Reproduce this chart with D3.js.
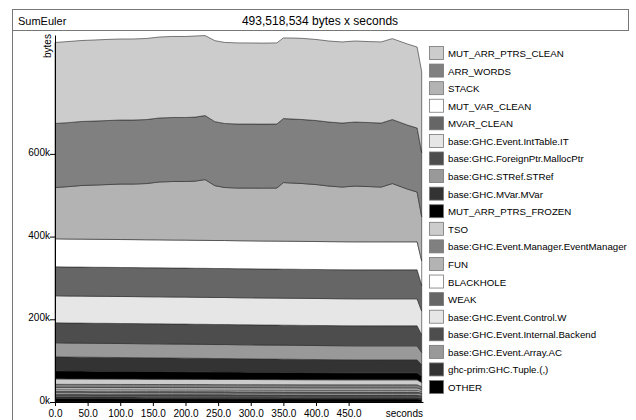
<!DOCTYPE html>
<html>
<head>
<meta charset="utf-8">
<script src="https://cdn.jsdelivr.net/npm/d3@7"></script>
<style>
  body { margin: 0; background: #fff; }
  svg { display: block; }
  text { font-family: "Liberation Sans", Arial, Helvetica, sans-serif; fill: #000; }
</style>
</head>
<body>
<svg id="chart" width="636" height="420"></svg>
<script>
// Heap profile of SumEuler: bytes per closure type, sampled over run time (seconds)
const jobName = "SumEuler";
const totalLabel = "493,518,534 bytes x seconds";

const times = [0, 20, 40, 60, 80, 100, 120, 140, 160, 180, 200, 215, 230, 245, 260, 280,
               300, 320, 340, 350, 365, 380, 400, 420, 440, 460, 480, 500, 517, 540, 555, 562];

const mutArrPtrsClean = [195900, 196100, 195800, 196000, 196200, 195900, 196000, 196100,
                         195700, 196000, 195900, 196100, 193400, 195800, 196000, 196200,
                         196000, 195900, 196100, 195000, 196000, 196300, 196000, 195900,
                         196100, 196000, 195800, 196200, 195600, 196000, 195900, 195900];
const arrWords = [154800, 154800, 154800, 154800, 154800, 154800, 154800, 154800,
                  154800, 154800, 154800, 154800, 154800, 154800, 154800, 154800,
                  154800, 154800, 154800, 154800, 154800, 154800, 154800, 154800,
                  154800, 154800, 154800, 154800, 154800, 154800, 154800, 154800];
const stack = [124000, 126700, 129600, 131100, 132500, 134200, 134400, 135900,
               140000, 141500, 141700, 143100, 147000, 132700, 128200, 127400,
               127700, 127900, 128400, 141700, 140700, 139800, 137800, 134400,
               132300, 134900, 133700, 132500, 141000, 127700, 120400, 106900];
const mutVarClean = [67700, 67700, 67700, 67700, 67700, 67700, 67700, 67700,
                     67700, 67700, 67700, 67700, 67700, 67700, 67700, 67700,
                     67700, 67700, 67700, 67700, 67700, 67700, 67700, 67700,
                     67700, 67700, 67700, 67700, 67700, 67700, 67700, 59600];
const mvarClean = [70100, 70100, 70100, 70100, 70100, 70100, 70100, 70100,
                   70100, 70100, 70100, 70100, 70100, 70100, 70100, 70100,
                   70100, 70100, 70100, 70100, 70100, 70100, 70100, 70100,
                   70100, 70100, 70100, 70100, 70100, 70100, 70100, 61700];
const intTableIT = [65300, 65300, 65300, 65300, 65300, 65300, 65300, 65300,
                    65300, 65300, 65300, 65300, 65300, 65300, 65300, 65300,
                    65300, 65300, 65300, 65300, 65300, 65300, 65300, 65300,
                    65300, 65300, 65300, 65300, 65300, 65300, 65300, 57500];
const mallocPtr = [48400, 48400, 48400, 48400, 48400, 48400, 48400, 48400,
                   48400, 48400, 48400, 48400, 48400, 48400, 48400, 48400,
                   48400, 48400, 48400, 48400, 48400, 48400, 48400, 48400,
                   48400, 48400, 48400, 48400, 48400, 48400, 48400, 42600];
const stRef = [33900, 33900, 33900, 33900, 33900, 33900, 33900, 33900,
               33900, 33900, 33900, 33900, 33900, 33900, 33900, 33900,
               33900, 33900, 33900, 33900, 33900, 33900, 33900, 33900,
               33900, 33900, 33900, 33900, 33900, 33900, 33900, 29800];
const mVar = [33900, 33700, 33600, 33500, 33400, 33300, 33200, 33100,
              33000, 32900, 32800, 32700, 32600, 32500, 32500, 32300,
              32200, 32100, 32000, 32000, 31900, 31800, 31700, 31600,
              31500, 31400, 31400, 31400, 31400, 31400, 31400, 27700];
const mutArrPtrsFrozen = [19400, 19200, 19100, 19000, 18900, 18800, 18700, 18600,
                          18500, 18400, 18300, 18200, 18100, 18000, 18000, 17800,
                          17700, 17600, 17500, 17400, 17400, 17300, 17200, 17100,
                          17000, 16900, 16900, 16900, 16900, 16900, 16900, 14900];
const tso = [13300, 13200, 13200, 13100, 13100, 13000, 13000, 12900,
             12900, 12800, 12800, 12700, 12700, 12600, 12600, 12600,
             12500, 12400, 12400, 12400, 12300, 12300, 12200, 12200,
             12100, 12100, 12100, 12100, 12100, 12100, 12100, 10600];
const eventManager = [7300, 7300, 7300, 7300, 7300, 7300, 7300, 7300,
                      7300, 7300, 7300, 7300, 7300, 7300, 7300, 7300,
                      7300, 7300, 7300, 7300, 7300, 7300, 7300, 7300,
                      7300, 7300, 7300, 7300, 7300, 7300, 7300, 6400];
const fun = [6000, 6000, 6000, 6000, 6000, 6000, 6000, 6000,
             6000, 6000, 6000, 6000, 6000, 6000, 6000, 6000,
             6000, 6000, 6000, 6000, 6000, 6000, 6000, 6000,
             6000, 6000, 6000, 6000, 6000, 6000, 6000, 5300];
const blackhole = [3600, 3600, 3600, 3600, 3600, 3600, 3600, 3600,
                   3600, 3600, 3600, 3600, 3600, 3600, 3600, 3600,
                   3600, 3600, 3600, 3600, 3600, 3600, 3600, 3600,
                   3600, 3600, 3600, 3600, 3600, 3600, 3600, 3200];
const weak = [3600, 3600, 3600, 3600, 3600, 3600, 3600, 3600,
              3600, 3600, 3600, 3600, 3600, 3600, 3600, 3600,
              3600, 3600, 3600, 3600, 3600, 3600, 3600, 3600,
              3600, 3600, 3600, 3600, 3600, 3600, 3600, 3200];
const controlW = [3600, 3600, 3600, 3600, 3600, 3600, 3600, 3600,
                  3600, 3600, 3600, 3600, 3600, 3600, 3600, 3600,
                  3600, 3600, 3600, 3600, 3600, 3600, 3600, 3600,
                  3600, 3600, 3600, 3600, 3600, 3600, 3600, 3200];
const backend = [3600, 3600, 3600, 3600, 3600, 3600, 3600, 3600,
                 3600, 3600, 3600, 3600, 3600, 3600, 3600, 3600,
                 3600, 3600, 3600, 3600, 3600, 3600, 3600, 3600,
                 3600, 3600, 3600, 3600, 3600, 3600, 3600, 3200];
const arrayAC = [2900, 2900, 2900, 2900, 2900, 2900, 2900, 2900,
                 2900, 2900, 2900, 2900, 2900, 2900, 2900, 2900,
                 2900, 2900, 2900, 2900, 2900, 2900, 2900, 2900,
                 2900, 2900, 2900, 2900, 2900, 2900, 2900, 2600];
const tuple = [3600, 3600, 3600, 3600, 3600, 3600, 3600, 3600,
               3600, 3600, 3600, 3600, 3600, 3600, 3600, 3600,
               3600, 3600, 3600, 3600, 3600, 3600, 3600, 3600,
               3600, 3600, 3600, 3600, 3600, 3600, 3600, 3200];
const other = [8500, 8400, 8400, 8300, 8300, 8200, 8200, 8100,
               8100, 8000, 8000, 7900, 7900, 7800, 7800, 7700,
               7700, 7600, 7600, 7500, 7500, 7400, 7400, 7300,
               7300, 7300, 7300, 7300, 7300, 7300, 7300, 6400];

// Band names, listed top band first (legend order)
const bandNames = ["MUT_ARR_PTRS_CLEAN", "ARR_WORDS", "STACK", "MUT_VAR_CLEAN", "MVAR_CLEAN",
  "base:GHC.Event.IntTable.IT", "base:GHC.ForeignPtr.MallocPtr", "base:GHC.STRef.STRef",
  "base:GHC.MVar.MVar", "MUT_ARR_PTRS_FROZEN", "TSO", "base:GHC.Event.Manager.EventManager",
  "FUN", "BLACKHOLE", "WEAK", "base:GHC.Event.Control.W", "base:GHC.Event.Internal.Backend",
  "base:GHC.Event.Array.AC", "ghc-prim:GHC.Tuple.(,)", "OTHER"];
const bandValues = [mutArrPtrsClean, arrWords, stack, mutVarClean, mvarClean, intTableIT,
  mallocPtr, stRef, mVar, mutArrPtrsFrozen, tso, eventManager, fun, blackhole, weak,
  controlW, backend, arrayAC, tuple, other];

const xTicks = [0, 50, 100, 150, 200, 250, 300, 350, 400, 450];
const yTicks = [0, 200000, 400000, 600000];
const yTickLabels = ["0k", "200k", "400k", "600k"];

// Grey shades, cycling every ten bands
const shades = ["#cccccc", "#808080", "#b3b3b3", "#ffffff", "#666666",
                "#e6e6e6", "#4d4d4d", "#999999", "#333333", "#000000"];

const svg = d3.select("#chart");

// Page frame and title box
svg.append("path")
  .attr("d", "M12.5,420 V30.5")
  .attr("fill", "none").attr("stroke", "#777").attr("stroke-width", 1);
svg.append("rect")
  .attr("x", 12.5).attr("y", 9.5).attr("width", 616).attr("height", 21)
  .attr("fill", "#fff").attr("stroke", "#777").attr("stroke-width", 1);
svg.append("text").attr("x", 18).attr("y", 24.5)
  .attr("font-size", 11).text(jobName);
svg.append("text").attr("x", 320).attr("y", 24.5)
  .attr("font-size", 12).attr("text-anchor", "middle").text(totalLabel);

// Scales
const x = d3.scaleLinear().domain([0, 564]).range([55, 423]);
const y = d3.scaleLinear().domain([0, 887500]).range([402, 35]);

// Stack: bottom band first
const rows = times.map((t, i) => {
  const r = { t };
  bandNames.forEach((n, k) => { r[n] = bandValues[k][i]; });
  return r;
});
const keys = bandNames.slice().reverse();
const series = d3.stack().keys(keys)(rows);

const area = d3.area()
  .x(d => x(d.data.t))
  .y0(d => y(d[0]))
  .y1(d => y(d[1]));

svg.append("g")
  .selectAll("path")
  .data(series)
  .join("path")
  .attr("d", area)
  .attr("fill", d => shades[bandNames.indexOf(d.key) % shades.length])
  .attr("stroke", "#2a2a2a")
  .attr("stroke-width", 0.6)
  .attr("stroke-linejoin", "round");

// Axes
const xAxis = svg.append("g")
  .attr("transform", "translate(0,402)")
  .call(d3.axisBottom(x).tickValues(xTicks).tickFormat(d3.format(".1f"))
    .tickSize(4).tickSizeOuter(0).tickPadding(4));
const yAxis = svg.append("g")
  .attr("transform", "translate(55,0)")
  .call(d3.axisLeft(y).tickValues(yTicks).tickFormat((d, i) => yTickLabels[i])
    .tickSize(5).tickSizeOuter(0).tickPadding(0));

[xAxis, yAxis].forEach(g => {
  g.selectAll("text").attr("font-size", 10).attr("font-family", null).attr("fill", "#000");
  g.selectAll("line").attr("stroke", "#000");
  g.select(".domain").attr("stroke", "#000");
});
yAxis.selectAll("text").attr("dy", "0.15em");

svg.append("text")
  .attr("x", 423).attr("y", 417)
  .attr("font-size", 10).attr("text-anchor", "end").text("seconds");
svg.append("text")
  .attr("transform", "translate(51,58) rotate(-90)")
  .attr("font-size", 10).text("bytes");

// Legend
const legend = svg.append("g")
  .selectAll("g")
  .data(bandNames)
  .join("g")
  .attr("transform", (d, i) => `translate(429,${46 + i * 17.58})`);
legend.append("rect")
  .attr("x", 0.5).attr("y", 0.5).attr("width", 14).attr("height", 13)
  .attr("fill", (d, i) => shades[i % shades.length])
  .attr("stroke", "#777").attr("stroke-width", 0.8);
legend.append("text")
  .attr("x", 19).attr("y", 11)
  .attr("font-size", 9.7).text(d => d);
</script>
</body>
</html>
